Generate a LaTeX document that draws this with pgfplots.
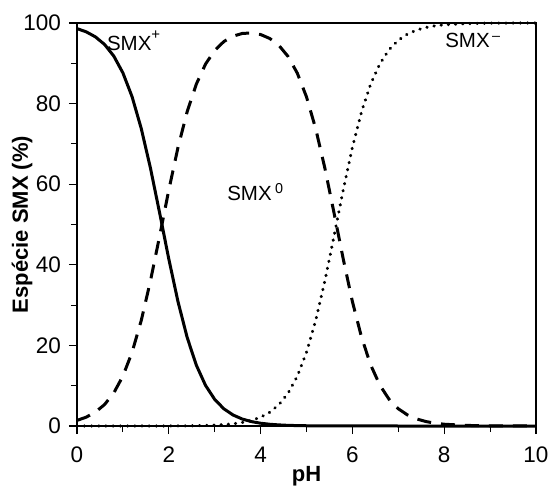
\documentclass[border=0pt]{standalone}
\usepackage{pgfplots}
\pgfplotsset{compat=1.18}
\usepackage{fontspec}
\setmainfont{Liberation Sans}
\begin{document}
\begin{tikzpicture}
\begin{axis}[
  scale only axis,
  width=459pt, height=403pt,
  xmin=0, xmax=10, ymin=0, ymax=100,
  xtick={0,2,...,10}, ytick={0,20,...,100},
  minor x tick num=1, minor y tick num=1,
  tick align=outside,
  xtick pos=bottom, ytick pos=left,
  major tick length=8pt, minor tick length=6pt,
  every tick/.style={black, line width=1.1pt},
  axis line style={line width=1.3pt},
  ticklabel style={font=\fontsize{22.5}{24}\selectfont, inner sep=1pt},
  xticklabel style={yshift=-12pt},
  yticklabel style={xshift=-7pt},
  /pgf/number format/assume math mode=true,
  xlabel={\textbf{pH}},
  ylabel={\textbf{Espécie SMX (\%)}},
  xlabel style={font=\fontsize{22}{24}\selectfont, at={(axis description cs:0.5,0)}, anchor=south, yshift=-64pt},
  ylabel style={font=\fontsize{22}{24}\selectfont, at={(axis description cs:-0.1198,0.5)}, anchor=center},
  clip=false,
]
% SMX+
\addplot[black, line width=3pt] coordinates {
(0,98.61) (0.2,97.81) (0.4,96.57) (0.6,94.68) (0.8,91.82) (1.0,87.62)
(1.2,81.71) (1.4,73.81) (1.6,64.01) (1.8,52.88) (2.0,41.45) (2.2,30.87)
(2.4,21.98) (2.6,15.09) (2.8,10.08) (3.0,6.60) (3.2,4.26) (3.4,2.73)
(3.6,1.73) (3.8,1.09) (4.0,0.69) (4.2,0.43) (4.4,0.27) (4.6,0.16)
(4.8,0.10) (5.0,0.06) (5.5,0.02) (6,0.01) (7,0) (8,0) (9,0) (10,0)
};
% SMX0
\addplot[black, line width=3pt, dash pattern=on 14pt off 10pt] coordinates {
(0,1.39) (0.2,2.19) (0.4,3.43) (0.6,5.32) (0.8,8.18) (1.0,12.38)
(1.2,18.29) (1.4,26.19) (1.6,35.99) (1.8,47.12) (2.0,58.54) (2.2,69.11)
(2.4,77.98) (2.6,84.84) (2.8,89.80) (3.0,93.19) (3.2,95.40) (3.4,96.73)
(3.6,97.40) (3.8,97.53) (4.0,97.14) (4.2,96.16) (4.4,94.43) (4.6,91.67)
(4.8,87.54) (5.0,81.66) (5.2,73.79) (5.4,63.99) (5.6,52.87) (5.8,41.45)
(6.0,30.88) (6.2,21.99) (6.4,15.10) (6.6,10.09) (6.8,6.61) (7.0,4.28)
(7.2,2.74) (7.4,1.75) (7.6,1.11) (7.8,0.70) (8.0,0.44) (8.5,0.14)
(9.0,0.04) (9.5,0.01) (10,0)
};
% SMX-
\addplot[black, line width=3.1pt, line cap=round, dash pattern=on 0.4pt off 6.8pt] coordinates {
(0,0) (1,0) (1.5,0.005) (2.0,0.01) (2.4,0.04) (2.8,0.13) (3.0,0.21)
(3.2,0.34) (3.4,0.54) (3.6,0.87) (3.8,1.38) (4.0,2.17) (4.2,3.41)
(4.4,5.31) (4.6,8.17) (4.8,12.36) (5.0,18.28) (5.2,26.18) (5.4,35.99)
(5.6,47.12) (5.8,58.55) (6.0,69.12) (6.2,78.01) (6.4,84.90) (6.6,89.91)
(6.8,93.39) (7.0,95.72) (7.2,97.26) (7.4,98.25) (7.6,98.89) (7.8,99.30)
(8.0,99.56) (8.5,99.86) (9.0,99.96) (9.5,99.99) (10,100)
};
\node[font=\fontsize{20.5}{22}\selectfont, anchor=west, inner sep=0pt] at (axis cs:0.65,95.6) {SMX\raisebox{0.55em}{\fontsize{15}{15}\selectfont +}};
\node[font=\fontsize{20.5}{22}\selectfont, anchor=west, inner sep=0pt] at (axis cs:3.27,58) {SMX\,\textsuperscript{0}};
\node[font=\fontsize{20.5}{22}\selectfont, anchor=west, inner sep=0pt] at (axis cs:8.02,95.6) {SMX\textsuperscript{\,–}};
\end{axis}
\pgfresetboundingbox
\path ([xshift=-77pt,yshift=-64pt]current axis.south west) rectangle ([xshift=13pt,yshift=23pt]current axis.north east);
\end{tikzpicture}
\end{document}
